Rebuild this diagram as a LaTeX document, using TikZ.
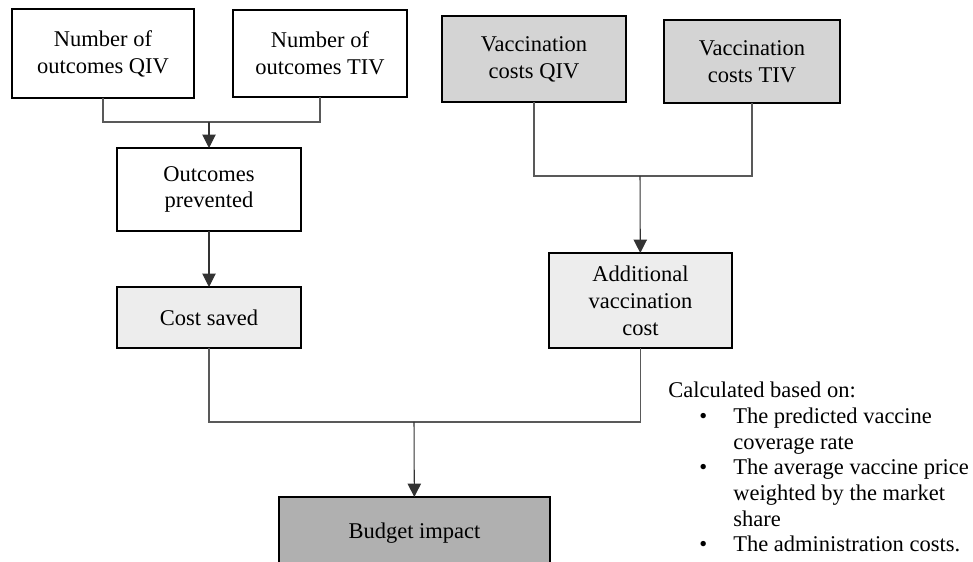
\documentclass[tikz,border=0pt]{standalone}
\usepackage{fontspec}
\setmainfont{Liberation Serif}
\usetikzlibrary{arrows.meta}
\begin{document}
\begin{tikzpicture}[
  box/.style={draw=black,line width=1.4pt,align=center,inner sep=0pt,outer sep=0pt,
    font=\fontsize{12.8}{15.3}\selectfont},
  conn/.style={draw=black!65,line width=0.6pt},
  arr/.style={conn,draw=black!80,-{Triangle[width=7.6pt,length=7.6pt]}}
]
\clip (0,0) rectangle (19.46,11.24);
%\draw[step=0.5cm,gray,very thin] (0,0) grid (19.46,11.24); %background grid

% inputs
\node[box,fill=white,minimum width=3.64cm,minimum height=1.78cm] (nq) at (2.06,10.17) {Number of\\outcomes QIV};
\node[box,fill=white,minimum width=3.48cm,minimum height=1.74cm] (nt) at (6.40,10.17) {Number of\\outcomes TIV};
\node[box,fill=black!17,minimum width=3.68cm,minimum height=1.72cm] (vq) at (10.68,10.06) {Vaccination\\costs QIV};
\node[box,fill=black!17,minimum width=3.52cm,minimum height=1.66cm] (vt) at (15.04,10.01) {Vaccination\\costs TIV};

% intermediate
\node[box,fill=white,minimum width=3.68cm,minimum height=1.66cm] (op) at (4.18,7.45) {Outcomes\\prevented};
\node[box,fill=black!7,minimum width=3.68cm,minimum height=1.22cm] (cs) at (4.18,4.89) {Cost saved};
\node[box,fill=black!7,minimum width=3.66cm,minimum height=1.90cm] (ad) at (12.81,5.23) {Additional\\vaccination\\cost};

% result
\node[box,fill=black!31,minimum width=5.42cm,minimum height=1.44cm] (bi) at (8.29,0.58) {Budget impact};

\coordinate (j1) at (4.18,8.80);
\coordinate (j2) at (12.80,7.72);
\coordinate (j3) at (8.28,2.80);

\draw[conn] (nq) |- (nt |- j1) -- (nt);
\draw[arr] (j1) -- (op);
\draw[arr] (op) -- (cs);

\draw[conn] (vq) |- (vt |- j2) -- (vt);
\draw[arr] (j2) -- (ad);

\draw[conn] (cs) |- (ad |- j3) -- (ad);
\draw[arr] (j3) -- (bi);

% note
\node[anchor=base west,inner sep=0pt,font=\fontsize{12.8}{14.6}\selectfont] (note) at (13.36,3.28) {%
\begin{tabular}[t]{@{}p{1.3cm}@{}l@{}}
\multicolumn{2}{@{}l@{}}{Calculated based on:}\\
\hspace*{0.62cm}\textbullet & The predicted vaccine\\
 & coverage rate\\
\hspace*{0.62cm}\textbullet & The average vaccine price\\
 & weighted by the market\\
 & share\\
\hspace*{0.62cm}\textbullet & The administration costs.
\end{tabular}};

\end{tikzpicture}
\end{document}
